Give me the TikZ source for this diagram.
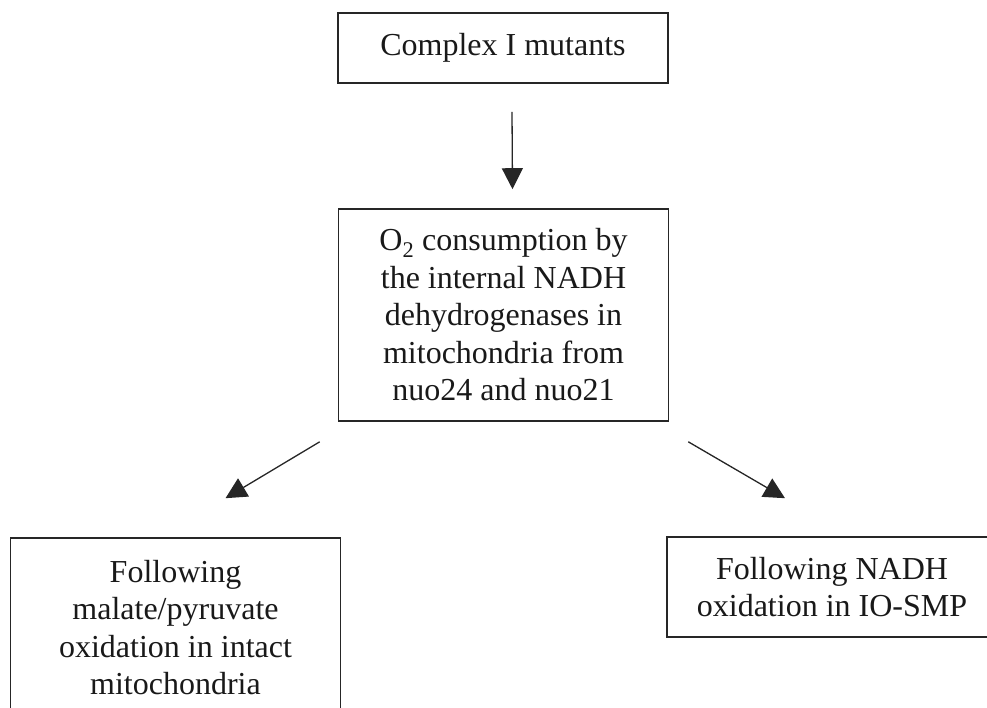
\documentclass[tikz,border=0pt]{standalone}
\usepackage{fontspec}
\setmainfont{Liberation Serif}
\usetikzlibrary{arrows.meta,calc}
\begin{document}
\begin{tikzpicture}[x=1pt,y=-1pt,
  box/.style={draw=black!85, line width=1.6pt, text=black!90, align=center,
              minimum width=330pt, inner sep=0pt,
              font=\fontsize{32}{37.5}\selectfont},
  link/.style={draw=black!85, line width=1.3pt,
               -{Triangle[length=21pt,width=21pt]}}]
\useasboundingbox (0,0) rectangle (987,707);
\clip (0,0) rectangle (987,707);

% boxes
\node[box, minimum height=70pt] (mutants) at (503,48) {Complex I mutants};
\node[box, minimum height=212pt] (oxygen) at (503.5,315)
  {O\textsubscript{2} consumption by\\the internal NADH\\dehydrogenases in\\mitochondria from\\nuo24 and nuo21};
\node[box, minimum height=179pt] (intact) at (175.5,627.5)
  {Following\\malate/pyruvate\\oxidation in intact\\mitochondria};
\node[box, minimum height=100pt] (smp) at (832,587)
  {Following NADH\\oxidation in IO-SMP};

% connectors
\draw[link] ($(mutants.south)+(9,28)$) -- ($(oxygen.north)+(9,-19)$);
\draw[link] ($(oxygen.south west)+(-18,20)$) -- ($(intact.north)+(50,-39)$);
\draw[link] ($(oxygen.south east)+(19,20)$) -- ($(smp.north)+(-47,-38)$);
\end{tikzpicture}
\end{document}
